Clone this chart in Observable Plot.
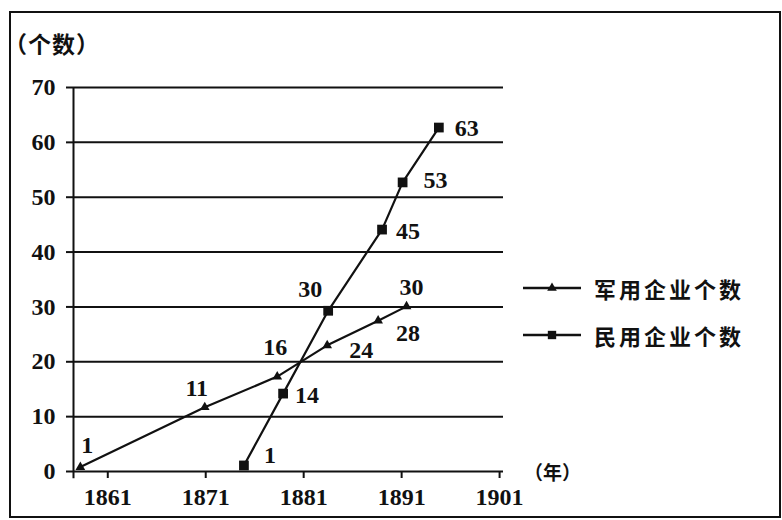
<!DOCTYPE html>
<html><head><meta charset="utf-8">
<script src="https://cdn.jsdelivr.net/npm/d3@7"></script>
<script src="https://cdn.jsdelivr.net/npm/@observablehq/plot@0.6"></script>
<style>
html,body{margin:0;padding:0;background:#fff;}
#wrap{position:relative;width:782px;height:520px;overflow:hidden;background:#fff;}
#border{position:absolute;left:9px;top:11px;width:768px;height:503px;border:2px solid #111;box-sizing:content-box;pointer-events:none;}
.cjk{position:absolute;font-family:"Noto Sans CJK SC","Noto Sans",sans-serif;font-weight:700;color:#111;white-space:nowrap;line-height:1;}
#ytitle{left:4px;top:32px;font-size:23px;letter-spacing:1px;}
#xtitle{left:524px;top:462px;font-size:19px;}
.leg{position:absolute;left:522px;height:24px;display:flex;align-items:center;}
.leg svg{display:block;}
.leg span{margin-left:12px;font-size:22px;letter-spacing:3px;font-family:"Noto Sans CJK SC",sans-serif;font-weight:700;color:#111;}
</style></head><body>
<div id="wrap"></div>
<script>
// ---- data ----
const militaryYears  = [1858.2, 1870.9, 1878.3, 1883.4, 1888.6, 1891.5];
const militaryValues = [0.8, 11.7, 17.3, 23.0, 27.5, 30.1];
const militaryLabels = ["1", "11", "16", "24", "28", "30"];
const civilYears  = [1874.9, 1878.9, 1883.5, 1889.0, 1891.1, 1894.8];
const civilValues = [1.1, 14.2, 29.3, 44.1, 52.7, 62.7];
const civilLabels = ["1", "14", "30", "45", "53", "63"];
const xTicks = [1861, 1871, 1881, 1891, 1901];
const yTicks = [0, 10, 20, 30, 40, 50, 60, 70];
const seriesNames = ["军用企业个数", "民用企业个数"];
const yTitle = "（个数）";
const xTitle = "（年）";

// ---- layout (not data) ----
const xDomain = [1857.5, 1901.4];
const militaryLabelOffsets = [[7,-22],[-8,-19],[-2,-29],[34,5],[30,13],[5,-19]];
const civilLabelOffsets = [[26,-10],[24,2],[-18,-21],[26,2],[33,-2],[28,1]];

const military = militaryYears.map((y, i) => ({year: y, value: militaryValues[i], label: militaryLabels[i]}));
const civil = civilYears.map((y, i) => ({year: y, value: civilValues[i], label: civilLabels[i]}));

const serif = "'Liberation Serif','Times New Roman',serif";
const labelMarks = (rows, offs) => rows.map((r, i) => Plot.text([r], {
  x: "year", y: "value", text: "label", dx: offs[i][0], dy: offs[i][1],
  fontSize: 24, fontWeight: "bold", fontFamily: serif, fill: "#111",
  textAnchor: "middle", lineAnchor: "middle"
}));

const chart = Plot.plot({
  width: 782, height: 520,
  marginLeft: 73, marginRight: 279, marginTop: 87, marginBottom: 49,
  style: {background: "transparent", color: "#111", overflow: "visible"},
  x: {domain: xDomain, label: null},
  y: {domain: [0, 70], label: null},
  marks: [
    Plot.gridY(yTicks, {stroke: "#111", strokeOpacity: 1, strokeWidth: 2}),
    Plot.ruleX([xDomain[0]], {y1: -1.3, y2: 70, stroke: "#111", strokeWidth: 2}),
    Plot.axisY(yTicks, {tickSize: 7, tickPadding: 11, fontSize: 24, fontWeight: "bold", fontFamily: serif, stroke: "#111", strokeWidth: 2, label: null}),
    Plot.axisX(xTicks, {tickSize: 7, tickPadding: 9, fontSize: 24, fontWeight: "bold", fontFamily: serif, tickFormat: d => String(d), stroke: "#111", strokeWidth: 2, label: null}),
    Plot.line(military, {x: "year", y: "value", stroke: "#111", strokeWidth: 2.2}),
    Plot.line(civil, {x: "year", y: "value", stroke: "#111", strokeWidth: 2.2}),
    Plot.dot(military, {x: "year", y: "value", symbol: "triangle", r: 3.6, fill: "#111", stroke: "none"}),
    Plot.dot(civil, {x: "year", y: "value", symbol: "square", r: 5.5, fill: "#111", stroke: "none"}),
    ...labelMarks(military, militaryLabelOffsets),
    ...labelMarks(civil, civilLabelOffsets)
  ]
});
const wrap = document.getElementById("wrap");
chart.style.position = "absolute";
chart.style.left = "0px";
chart.style.top = "0px";
wrap.appendChild(chart);

const border = document.createElement("div");
border.id = "border";
wrap.appendChild(border);

const yt = document.createElement("div");
yt.className = "cjk"; yt.id = "ytitle"; yt.textContent = yTitle;
wrap.appendChild(yt);
const xt = document.createElement("div");
xt.className = "cjk"; xt.id = "xtitle"; xt.textContent = xTitle;
wrap.appendChild(xt);

// legend
const legTops = [276, 323];
const legSymbols = [d3.symbolTriangle, d3.symbolSquare];
const legSizes = [40, 70];
seriesNames.forEach((name, i) => {
  const d = document.createElement("div");
  d.className = "leg";
  d.style.top = legTops[i] + "px";
  const svg = d3.create("svg").attr("width", 60).attr("height", 24);
  svg.append("line").attr("x1", 1).attr("x2", 59).attr("y1", 12).attr("y2", 12).attr("stroke", "#111").attr("stroke-width", 2.5);
  svg.append("path").attr("d", d3.symbol(legSymbols[i], legSizes[i])()).attr("transform", "translate(30,12)").attr("fill", "#111");
  d.appendChild(svg.node());
  const s = document.createElement("span");
  s.textContent = name;
  d.appendChild(s);
  wrap.appendChild(d);
});
</script>
</body></html>
